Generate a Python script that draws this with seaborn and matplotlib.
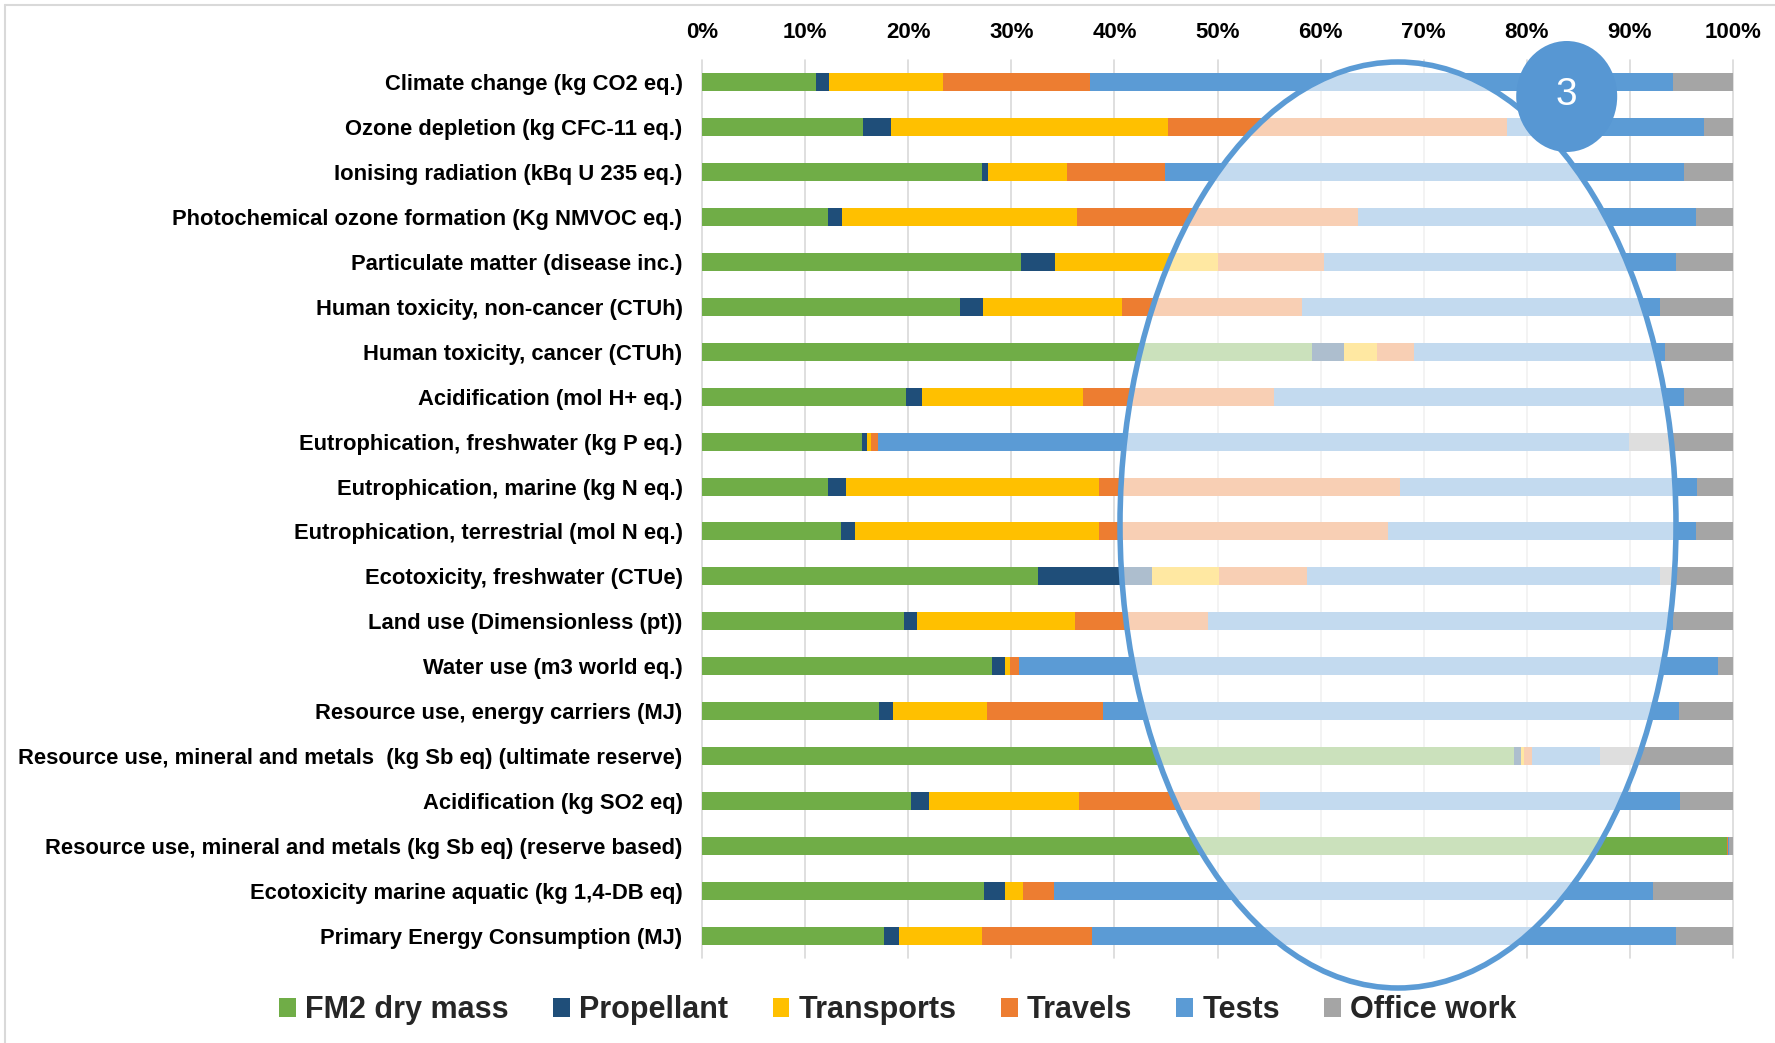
import numpy as np
import pandas as pd
import matplotlib
matplotlib.use("Agg")
import matplotlib.pyplot as plt
from matplotlib.patches import Ellipse, Patch
from matplotlib.lines import Line2D
import seaborn as sns

# Impact categories (top to bottom)
categories = [
    "Climate change (kg CO2 eq.)",
    "Ozone depletion (kg CFC-11 eq.)",
    "Ionising radiation (kBq U 235 eq.)",
    "Photochemical ozone formation (Kg NMVOC eq.)",
    "Particulate matter (disease inc.)",
    "Human toxicity, non-cancer (CTUh)",
    "Human toxicity, cancer (CTUh)",
    "Acidification (mol H+ eq.)",
    "Eutrophication, freshwater (kg P eq.)",
    "Eutrophication, marine (kg N eq.)",
    "Eutrophication, terrestrial (mol N eq.)",
    "Ecotoxicity, freshwater (CTUe)",
    "Land use (Dimensionless (pt))",
    "Water use (m3 world eq.)",
    "Resource use, energy carriers (MJ)",
    "Resource use, mineral and metals  (kg Sb eq) (ultimate reserve)",
    "Acidification (kg SO2 eq)",
    "Resource use, mineral and metals (kg Sb eq) (reserve based)",
    "Ecotoxicity marine aquatic (kg 1,4-DB eq)",
    "Primary Energy Consumption (MJ)",
]

# Contribution of each life-cycle item, in % of the total impact
fm2_dry_mass = [11.1, 15.6, 27.2, 12.2, 30.9, 25.0, 59.2, 19.8, 15.5, 12.2,
                13.5, 32.6, 19.6, 28.1, 17.2, 78.8, 20.3, 99.4, 27.4, 17.7]
propellant = [1.2, 2.7, 0.5, 1.4, 3.3, 2.3, 3.1, 1.5, 0.5, 1.8,
              1.3, 11.0, 1.3, 1.3, 1.3, 0.6, 1.7, 0.0, 2.0, 1.4]
transports = [11.1, 26.9, 7.7, 22.8, 15.8, 13.4, 3.2, 15.7, 0.4, 24.5,
              23.7, 6.5, 15.3, 0.5, 9.1, 0.3, 14.6, 0.0, 1.7, 8.1]
travels = [14.2, 32.9, 9.5, 27.2, 10.3, 17.5, 3.6, 18.5, 0.7, 29.2,
           28.0, 8.6, 12.9, 0.8, 11.3, 0.8, 17.5, 0.1, 3.0, 10.6]
tests = [56.6, 19.1, 50.3, 32.8, 34.2, 34.7, 24.3, 39.7, 72.8, 28.8,
         29.9, 34.2, 45.1, 67.8, 55.9, 6.6, 40.8, 0.1, 58.1, 56.7]
office_work = [5.8, 2.8, 4.8, 3.6, 5.5, 7.1, 6.6, 4.8, 10.1, 3.5,
               3.6, 7.1, 5.8, 1.5, 5.2, 12.9, 5.1, 0.4, 7.8, 5.5]

series_names = ["FM2 dry mass", "Propellant", "Transports", "Travels", "Tests", "Office work"]
series_colors = ["#70AD47", "#1F4E79", "#FFC000", "#ED7D31", "#5B9BD5", "#A5A5A5"]

df = pd.DataFrame({
    "category": categories,
    "FM2 dry mass": fm2_dry_mass,
    "Propellant": propellant,
    "Transports": transports,
    "Travels": travels,
    "Tests": tests,
    "Office work": office_work,
})
cum = df[series_names].cumsum(axis=1)

sns.set_theme(style="white")
plt.rcParams["font.family"] = ["Liberation Sans", "DejaVu Sans"]

W, H = 1775, 1043
fig = plt.figure(figsize=(W / 100, H / 100), dpi=100)
fig.patch.set_facecolor("white")
ax = fig.add_axes([702 / W, 1 - 958 / H, 1031 / W, 898 / H])

# Stacked bars: draw cumulative totals from the outermost series inward
for name, color in reversed(list(zip(series_names, series_colors))):
    sns.barplot(x=cum[name], y=df["category"], orient="y", color=color,
                saturation=1, width=0.4, linewidth=0, ax=ax)

ax.set_xlim(0, 100)
ax.set_ylim(len(categories) - 0.5, -0.5)
ax.set_xticks(np.arange(0, 101, 10))
ax.set_xticklabels([f"{v}%" for v in range(0, 101, 10)])
ax.xaxis.tick_top()
ax.tick_params(axis="x", length=0, pad=12, labelsize=16)
ax.tick_params(axis="y", length=0, pad=14, labelsize=15.8)
for lbl in ax.get_xticklabels() + ax.get_yticklabels():
    lbl.set_fontweight("bold")
    lbl.set_color("black")
ax.set_xlabel("")
ax.set_ylabel("")
for sp in ax.spines.values():
    sp.set_visible(False)
ax.grid(axis="x", color="#D9D9D9", linewidth=1.2)
ax.grid(axis="y", visible=False)
ax.set_axisbelow(True)
for gl in ax.get_xgridlines():
    gl.set_clip_on(False)

# Highlight ellipse: translucent wash plus outline
cx, cy, ew, eh = 1398 / W, 1 - 525 / H, 556 / W, 926 / H
fig.add_artist(Ellipse((cx, cy), ew, eh, transform=fig.transFigure,
                       facecolor="white", edgecolor="none", alpha=0.64, zorder=2))
fig.add_artist(Ellipse((cx, cy), ew, eh, transform=fig.transFigure,
                       fill=False, edgecolor="#5B9BD5", linewidth=4, zorder=3))

# Numbered badge
bx, by = 1566.7 / W, 1 - 96.5 / H
fig.add_artist(Ellipse((bx, by), 101 / W, 111 / H, transform=fig.transFigure,
                       facecolor="#5797D3", edgecolor="none", zorder=4))
fig.text(bx, by + 1 / H, "3", color="white", fontsize=28, ha="center", va="center", zorder=5)

# Legend
handles = [Patch(facecolor=c, edgecolor="none") for c in series_colors]
fig.legend(handles, series_names, loc="center", bbox_to_anchor=(898 / W, 1 - 1010 / H),
           ncol=6, frameon=False, prop={"weight": "bold", "size": 22},
           handlelength=0.55, handleheight=0.6, handletextpad=0.3, columnspacing=1.45)

# Outer frame
fig.add_artist(Line2D([5 / W, 1], [1 - 5 / H, 1 - 5 / H], color="#D9D9D9",
                      linewidth=1.5, transform=fig.transFigure))
fig.add_artist(Line2D([5 / W, 5 / W], [0, 1 - 5 / H], color="#D9D9D9",
                      linewidth=1.5, transform=fig.transFigure))

fig.savefig("out.png", dpi=100)
